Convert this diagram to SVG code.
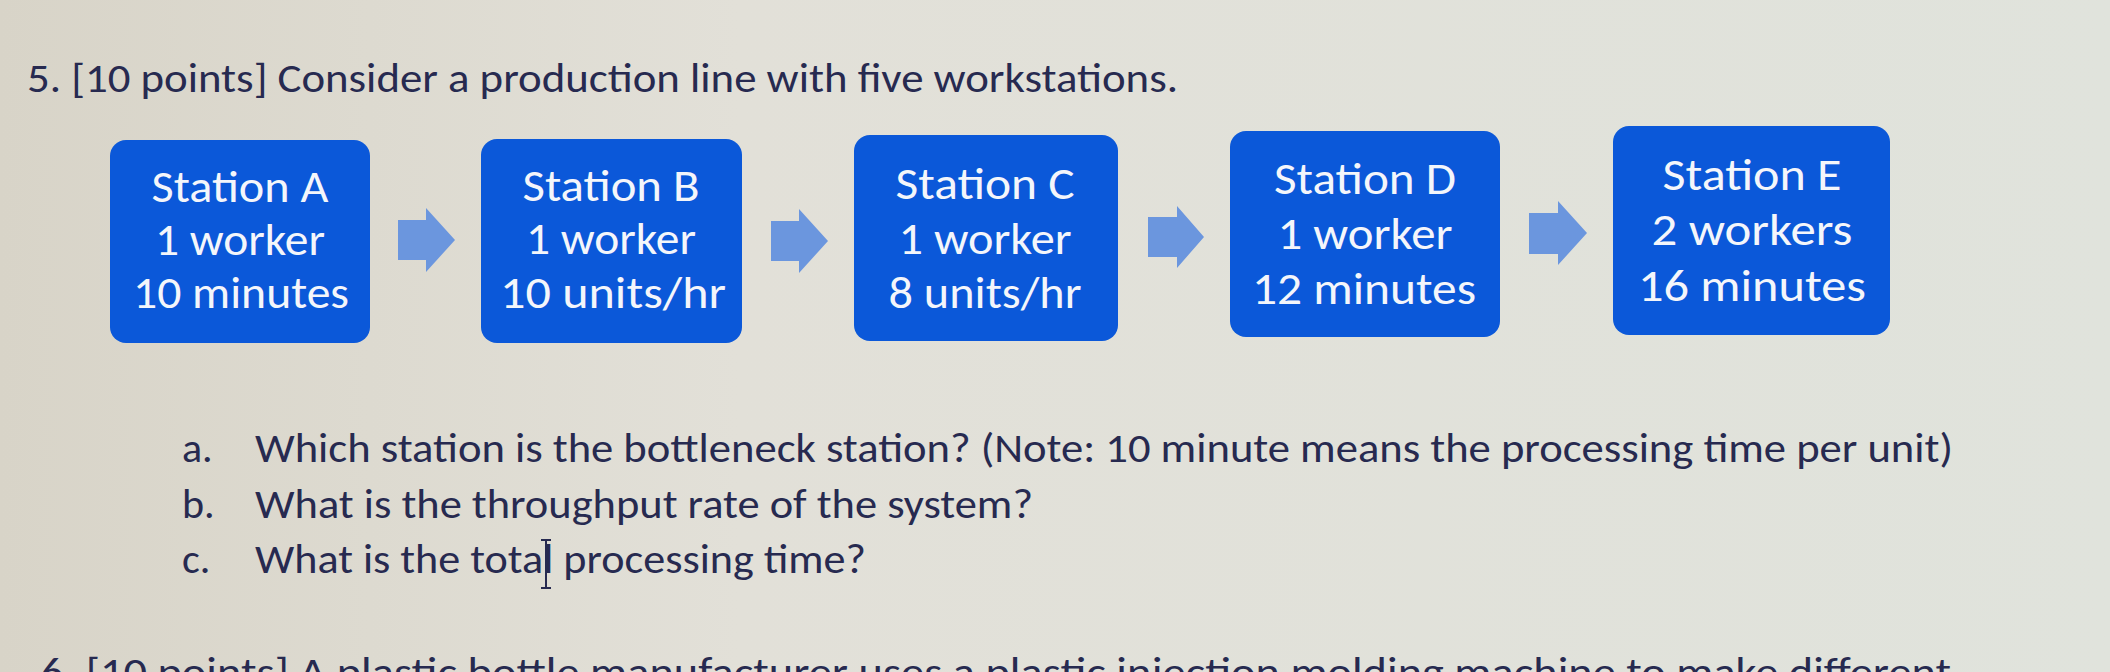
<svg xmlns="http://www.w3.org/2000/svg" width="2110" height="672" viewBox="0 0 2110 672">
  <defs>
    <linearGradient id="bg" x1="0" y1="0" x2="1" y2="0">
      <stop offset="0" stop-color="#d8d4c8"/>
      <stop offset="0.35" stop-color="#e2e0d8"/>
      <stop offset="1" stop-color="#e0e3dc"/>
    </linearGradient>
    <style>
      .box { fill: #0b58d9; }
      .bt { font-family: Carlito, Lato, "Liberation Sans", sans-serif; font-size: 45px; fill: #f4f6fb; text-anchor: middle; }
      .tx { font-family: Carlito, Lato, "Liberation Sans", sans-serif; font-size: 42px; fill: #272a50; }
      .arrow { fill: #6b96de; }
    </style>
  </defs>
  <rect x="0" y="0" width="2110" height="672" fill="url(#bg)"/>

  <text class="tx" x="27" y="92" textLength="1151" lengthAdjust="spacingAndGlyphs">5. [10 points] Consider a production line with five workstations.</text>

  <g id="station-a">
    <rect class="box" x="110" y="140" width="260" height="203" rx="16"/>
    <text class="bt" x="240" y="202" textLength="177" lengthAdjust="spacingAndGlyphs">Station A</text>
    <text class="bt" x="240" y="255" textLength="170" lengthAdjust="spacingAndGlyphs">1 worker</text>
    <text class="bt" x="241" y="308" textLength="216" lengthAdjust="spacingAndGlyphs">10 minutes</text>
  </g>
  <g id="station-b">
    <rect class="box" x="481" y="139" width="261" height="204" rx="16"/>
    <text class="bt" x="611" y="201" textLength="177" lengthAdjust="spacingAndGlyphs">Station B</text>
    <text class="bt" x="611" y="254" textLength="170" lengthAdjust="spacingAndGlyphs">1 worker</text>
    <text class="bt" x="613" y="308" textLength="226" lengthAdjust="spacingAndGlyphs">10 units/hr</text>
  </g>
  <g id="station-c">
    <rect class="box" x="854" y="135" width="264" height="206" rx="16"/>
    <text class="bt" x="985" y="199" textLength="179" lengthAdjust="spacingAndGlyphs">Station C</text>
    <text class="bt" x="985" y="254" textLength="173" lengthAdjust="spacingAndGlyphs">1 worker</text>
    <text class="bt" x="985" y="308" textLength="193" lengthAdjust="spacingAndGlyphs">8 units/hr</text>
  </g>
  <g id="station-d">
    <rect class="box" x="1230" y="131" width="270" height="206" rx="16"/>
    <text class="bt" x="1365" y="194" textLength="182" lengthAdjust="spacingAndGlyphs">Station D</text>
    <text class="bt" x="1365" y="249" textLength="175" lengthAdjust="spacingAndGlyphs">1 worker</text>
    <text class="bt" x="1364" y="304" textLength="224" lengthAdjust="spacingAndGlyphs">12 minutes</text>
  </g>
  <g id="station-e">
    <rect class="box" x="1613" y="126" width="277" height="209" rx="16"/>
    <text class="bt" x="1752" y="190" textLength="179" lengthAdjust="spacingAndGlyphs">Station E</text>
    <text class="bt" x="1752" y="245" textLength="201" lengthAdjust="spacingAndGlyphs">2 workers</text>
    <text class="bt" x="1752" y="301" textLength="228" lengthAdjust="spacingAndGlyphs">16 minutes</text>
  </g>

  <g id="connectors">
    <polygon class="arrow" points="398,220 426,220 426,208 455,240 426,272 426,260 398,260"/>
    <polygon class="arrow" points="771,221 799,221 799,209 828,241 799,273 799,261 771,261"/>
    <polygon class="arrow" points="1148,217 1177,217 1177,206 1204,237 1177,268 1177,257 1148,257"/>
    <polygon class="arrow" points="1529,213 1558,213 1558,201 1587,233 1558,265 1558,254 1529,254"/>
  </g>

  <g id="questions">
    <text class="tx" x="182" y="462">a.</text>
    <text class="tx" x="255" y="462" textLength="1698" lengthAdjust="spacingAndGlyphs">Which station is the bottleneck station? (Note: 10 minute means the processing time per unit)</text>
    <text class="tx" x="182" y="518">b.</text>
    <text class="tx" x="255" y="518" textLength="778" lengthAdjust="spacingAndGlyphs">What is the throughput rate of the system?</text>
    <text class="tx" x="182" y="573">c.</text>
    <text class="tx" x="255" y="573" textLength="611" lengthAdjust="spacingAndGlyphs">What is the total processing time?</text>
    <path d="M541,540 L551,540 M546,540 L546,588 M541,588 L551,588" stroke="#272a50" stroke-width="2" fill="none"/>
  </g>

  <text class="tx" x="40" y="686" textLength="1911" lengthAdjust="spacingAndGlyphs">6. [10 points] A plastic bottle manufacturer uses a plastic injection molding machine to make different</text>
</svg>
